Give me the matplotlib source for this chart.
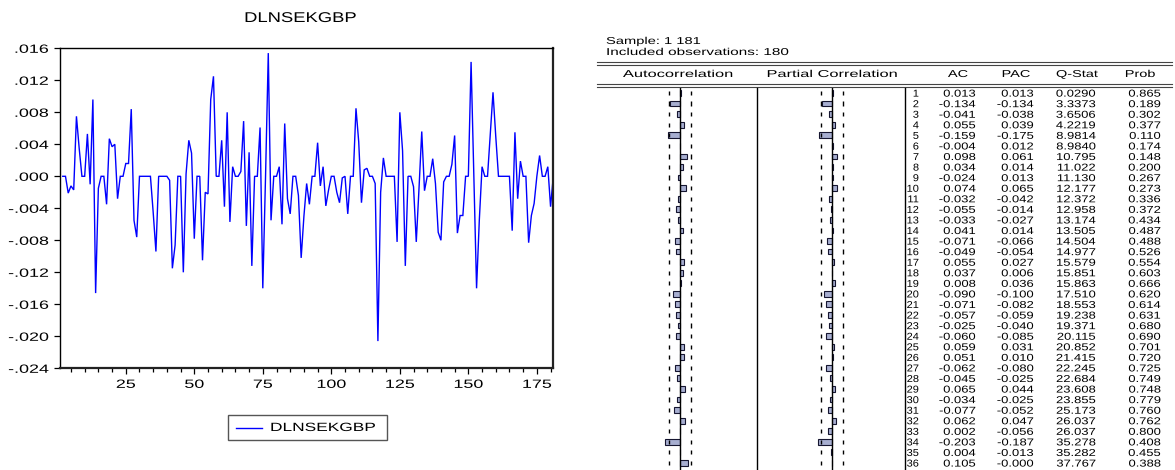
import numpy as np
import matplotlib
matplotlib.use("Agg")
import matplotlib.pyplot as plt
from matplotlib.patheffects import AbstractPathEffect
from matplotlib.transforms import Affine2D
from matplotlib.patches import Rectangle
from matplotlib.ticker import FixedLocator, FuncFormatter

plt.rcParams['font.family'] = ['Liberation Sans', 'DejaVu Sans']

# ---------------- data ----------------
series_name = "DLNSEKGBP"
first_obs = 2
dlnsekgbp = [
    0, 0, -0.0021, -0.0012, -0.0017, 0.0075, 0.0035, 0, 0, 0.0053,
    -0.0010, 0.0096, -0.0146, -0.0015, 0, 0, -0.0035, 0.0047, 0.0037, 0.0040,
    -0.0028, 0, 0, 0.0016, 0.0016, 0.0084, -0.0055, -0.0076, 0, 0,
    0, 0, 0, -0.0045, -0.0094, 0, 0, 0, 0, -0.0005,
    -0.0115, -0.0086, 0, 0, -0.0120, 0.0003, 0.0045, 0.0029, -0.0078, 0,
    0, -0.0105, -0.0020, -0.0022, 0.0096, 0.0125, 0, 0, 0.0045, -0.0038,
    0.0080, -0.0057, 0.0012, 0, 0, 0.0006, 0.0069, -0.0062, 0.0030, -0.0112,
    0, 0, 0.0061, -0.0140, 0, 0.0154, -0.0055, 0, 0, 0.0012,
    -0.0060, 0.0066, -0.0028, -0.0047, 0, 0, -0.0024, -0.0102, -0.0050, -0.0009,
    -0.0035, 0, 0, 0.0042, -0.0012, 0.0012, -0.0037, -0.0017, 0, 0,
    -0.0020, -0.0033, -0.0002, 0, -0.0047, 0, 0, 0.0085, 0.0043, -0.0033,
    0.0008, 0.0010, 0, 0, -0.0009, -0.0206, -0.0020, 0.0023, 0, 0,
    0, 0, -0.0082, 0.0080, 0.0032, -0.0112, 0, 0, -0.0013, -0.0082,
    -0.0015, 0.0056, -0.0018, 0, 0, 0.0022, -0.0009, -0.0070, -0.0080, -0.0007,
    0, 0, 0.0015, 0.0051, -0.0071, -0.0049, -0.0049, 0, 0, 0.0143,
    0, -0.0140, -0.0055, 0.0012, 0, 0, 0.0052, 0.0105, 0.0050, 0,
    0, 0, 0, 0, -0.0068, 0.0055, -0.0028, 0.0019, 0, 0,
    -0.0083, -0.0049, -0.0034, 0, 0.0026, 0, 0, 0.0012, -0.0038, 0,
]
x_major_ticks = [25, 50, 75, 100, 125, 150, 175]
y_ticks = [-0.024, -0.020, -0.016, -0.012, -0.008, -0.004, 0.000, 0.004, 0.008, 0.012, 0.016]

sample_text = "Sample: 1 181"
included_text = "Included observations: 180"
headers = ["Autocorrelation", "Partial Correlation", "AC", "PAC", "Q-Stat", "Prob"]
lags = list(range(1, 37))
ac = [0.013, -0.134, -0.041, 0.055, -0.159, -0.004, 0.098, 0.034, -0.024, 0.074,
      -0.032, -0.055, -0.033, 0.041, -0.071, -0.049, 0.055, 0.037, 0.008, -0.090,
      -0.071, -0.057, -0.025, -0.060, 0.059, 0.051, -0.062, -0.045, 0.065, -0.034,
      -0.077, 0.062, 0.002, -0.203, 0.004, 0.105]
pac = [0.013, -0.134, -0.038, 0.039, -0.175, 0.012, 0.061, 0.014, 0.013, 0.065,
       -0.042, -0.014, -0.027, 0.014, -0.066, -0.054, 0.027, 0.006, 0.036, -0.100,
       -0.082, -0.059, -0.040, -0.085, 0.031, 0.010, -0.080, -0.025, 0.044, -0.025,
       -0.052, 0.047, -0.056, -0.187, -0.013, -0.0004]
qstat = [0.0290, 3.3373, 3.6506, 4.2219, 8.9814, 8.9840, 10.795, 11.022, 11.130, 12.177,
         12.372, 12.958, 13.174, 13.505, 14.504, 14.977, 15.579, 15.851, 15.863, 17.510,
         18.553, 19.238, 19.371, 20.115, 20.852, 21.415, 22.245, 22.684, 23.608, 23.855,
         25.173, 26.037, 26.037, 35.278, 35.282, 37.767]
prob = [0.865, 0.189, 0.302, 0.377, 0.110, 0.174, 0.148, 0.200, 0.267, 0.273,
        0.336, 0.372, 0.434, 0.487, 0.488, 0.526, 0.554, 0.603, 0.666, 0.620,
        0.614, 0.631, 0.680, 0.690, 0.701, 0.720, 0.725, 0.749, 0.748, 0.779,
        0.760, 0.762, 0.800, 0.408, 0.455, 0.388]
n_obs = 180


# ---------------- helpers ----------------
class HStretch(AbstractPathEffect):
    """Widen glyphs horizontally about the text anchor (EViews-like wide text)."""
    def __init__(self, text, sx):
        super().__init__()
        self.text = text
        self.sx = sx

    def draw_path(self, renderer, gc, tpath, affine, rgbFace=None):
        x, y = self.text.get_transform().transform(self.text.get_unitless_position())
        st = Affine2D().translate(-x, -y).scale(self.sx, 1.0).translate(x, y)
        renderer.draw_path(gc, tpath, affine + st, rgbFace)


def stretch(t, sx):
    t.set_path_effects([HStretch(t, sx)])
    return t


W, H = 1175, 470
fig = plt.figure(figsize=(W / 100, H / 100), dpi=100)
fig.patch.set_facecolor('white')


def fx(px):
    return px / W


def fy(py):
    return 1 - py / H


# ---------------- left: line chart ----------------
L, R, T, B = 60, 553.3, 48.3, 368.3
ax = fig.add_axes([fx(L), fy(B), fx(R - L), (B - T) / H])
obs = np.arange(first_obs, first_obs + len(dlnsekgbp))
ax.plot(obs, dlnsekgbp, color='#0000FF', lw=1.0, solid_joinstyle='miter')
ax.set_xlim(1, 181)
ax.set_ylim(y_ticks[0], y_ticks[-1])
ax.xaxis.set_major_locator(FixedLocator(x_major_ticks))
ax.xaxis.set_minor_locator(FixedLocator([v for v in range(5, 181, 5) if v not in x_major_ticks]))
ax.yaxis.set_major_locator(FixedLocator(y_ticks))


def yfmt(v, pos):
    s = f"{v:.3f}"
    if s.startswith("-0"):
        s = "-" + s[2:]
    elif s.startswith("0"):
        s = s[1:]
    return s


ax.yaxis.set_major_formatter(FuncFormatter(yfmt))
ax.tick_params(axis='y', which='major', direction='out', length=4.6, width=0.9, pad=3.6,
               labelsize=8.6, colors='black')
ax.tick_params(axis='x', which='major', direction='out', length=4.0, width=0.9, pad=3.6,
               labelsize=8.6)
ax.tick_params(axis='x', which='minor', direction='out', length=2.6, width=0.9)
for side in ['left', 'top']:
    ax.spines[side].set_linewidth(1.0)
for side in ['right', 'bottom']:
    ax.spines[side].set_linewidth(1.6)
    ax.spines[side].set_color('#222222')

fig.canvas.draw()
for t in ax.get_xticklabels() + ax.get_yticklabels():
    stretch(t, 1.5)

stretch(fig.text(fx(300), fy(18), series_name, ha='center', va='center', fontsize=10.2), 1.3)

# legend box
leg_ax = fig.add_axes([0, 0, 1, 1], facecolor='none')
leg_ax.set_xlim(0, W)
leg_ax.set_ylim(H, 0)
leg_ax.axis('off')
leg_ax.add_patch(Rectangle((228, 415), 159, 25, fill=False, edgecolor='#555555', lw=1.0))
leg_ax.plot([236, 262], [428, 428], color='#0000FF', lw=1.0)
stretch(leg_ax.text(270, 428, series_name, ha='left', va='center', fontsize=8.6), 1.45)

# ---------------- right: correlogram table ----------------
tab = leg_ax
TS = 7.2          # table font size
SXN = 1.3         # stretch for numbers
SXL = 1.5         # stretch for words
stretch(tab.text(606, 44, sample_text, ha='left', va='baseline', fontsize=TS), 1.47)
stretch(tab.text(606, 55, included_text, ha='left', va='baseline', fontsize=TS), 1.53)
for yy in (61.5, 64.5, 83.5, 86.5):
    tab.plot([597, 1172], [yy, yy], color='#444444', lw=0.8)

head_x = [678, 832, 958, 1016, 1077, 1140]
head_sx = [1.64, 1.64, 1.45, 1.45, 1.45, 1.45]
for hx, h, hs in zip(head_x, headers, head_sx):
    stretch(tab.text(hx, 77, h, ha='center', va='baseline', fontsize=TS), hs)

row0, drow = 93.0, 10.57
tab.plot([757, 757], [88, 470], color='black', lw=1.0)
tab.plot([905, 905], [88, 470], color='black', lw=1.0)


def fmt_q(v):
    return f"{v:.4f}" if v < 10 else f"{v:.3f}"


for i, lag in enumerate(lags):
    yb = row0 + i * drow + 3.6
    stretch(tab.text(919, yb, str(lag), ha='right', va='baseline', fontsize=TS), 1.1)
    stretch(tab.text(976, yb, f"{ac[i]:.3f}", ha='right', va='baseline', fontsize=TS), SXN)
    stretch(tab.text(1034, yb, f"{pac[i]:.3f}", ha='right', va='baseline', fontsize=TS), SXN)
    stretch(tab.text(1096, yb, fmt_q(qstat[i]), ha='right', va='baseline', fontsize=TS), SXN)
    stretch(tab.text(1161, yb, f"{prob[i]:.3f}", ha='right', va='baseline', fontsize=TS), SXN)

# bar panels (AC and PAC)
band = 2 / np.sqrt(n_obs)
px_per_unit = 75.0
half_w = 40.0
top_px, bot_px = 88.0, 470.0
lag_top = 1 + (top_px - row0) / drow
lag_bot = 1 + (bot_px - row0) / drow
for cx, vals in ((680, ac), (832, pac)):
    bax = fig.add_axes([fx(cx - half_w), fy(bot_px), fx(2 * half_w), (bot_px - top_px) / H],
                       facecolor='none')
    bax.set_xlim(-half_w / px_per_unit, half_w / px_per_unit)
    bax.set_ylim(lag_bot, lag_top)
    bax.axis('off')
    bax.barh(lags, vals, height=0.55, left=0, color='#A7AED0', edgecolor='#151530', lw=0.8)
    bax.axvline(0, color='black', lw=1.0)
    for lag in lags:
        for sgn in (-1, 1):
            bax.plot([sgn * band, sgn * band], [lag - 0.2, lag + 0.2], color='black', lw=1.0,
                     solid_capstyle='butt')

fig.savefig('out.png', dpi=100, facecolor='white')
